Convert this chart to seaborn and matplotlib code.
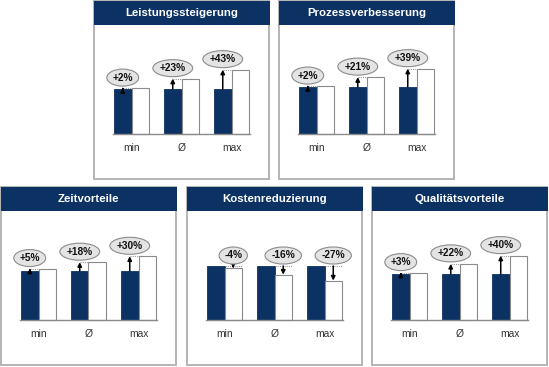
import matplotlib
matplotlib.use("Agg")
import matplotlib.pyplot as plt
from matplotlib.patches import Rectangle
import seaborn as sns
import pandas as pd

# ---- data ----
titles = ["Leistungssteigerung", "Prozessverbesserung", "Zeitvorteile",
          "Kostenreduzierung", "Qualitätsvorteile"]
categories = ["min", "Ø", "max"]
base_values = [45, 47, 49, 54, 46]          # relative height of the "before" bar
changes = [[2, 23, 43],
           [2, 21, 39],
           [5, 18, 30],
           [-4, -16, -27],
           [3, 22, 40]]

# ---- style ----
sns.set_theme(style="white")
plt.rcParams["font.family"] = ["Liberation Sans", "DejaVu Sans"]

NAVY = "#0c3264"
GRAY = "#b4b4b4"
W, H = 549, 367
fig = plt.figure(figsize=(W / 100, H / 100), dpi=100)

# panel placement in pixels (left, top)
panels = [(94, 1), (279, 1), (1, 187), (187, 187), (372, 187)]
PW, PH, TH = 175, 178, 24


def fx(px):
    return px / W


def fy(py):
    return 1 - py / H


for k, (x0, y0) in enumerate(panels):
    # panel frame
    fig.patches.append(Rectangle((fx(x0), fy(y0 + PH)), PW / W, PH / H,
                                 transform=fig.transFigure, facecolor="none",
                                 edgecolor=GRAY, lw=1.4, zorder=0))
    # title bar
    fig.patches.append(Rectangle((fx(x0), fy(y0 + TH)), (PW + 1) / W, TH / H,
                                 transform=fig.transFigure, facecolor=NAVY,
                                 edgecolor="none", zorder=1))
    fig.text(fx(x0 + PW / 2), fy(y0 + TH / 2 + 0.5), titles[k], color="white",
             fontsize=8.2, fontweight="bold", ha="center", va="center", zorder=3)

    # chart area
    ax = fig.add_axes([fx(x0), fy(y0 + PH), PW / W, (PH - TH) / H])
    ax.set_zorder(2)
    ax.patch.set_alpha(0)
    b = base_values[k]
    after = [b * (1 + c / 100) for c in changes[k]]
    df = pd.DataFrame({
        "cat": categories * 2,
        "phase": ["vorher"] * 3 + ["nachher"] * 3,
        "val": [b] * 3 + after,
    })
    sns.barplot(data=df, x="cat", y="val", hue="phase", order=categories,
                hue_order=["vorher", "nachher"], palette=[NAVY, "white"],
                width=0.7, legend=False, ax=ax, saturation=1)
    for p in ax.containers[0]:
        p.set_edgecolor(NAVY)
        p.set_linewidth(0.6)
    for p in ax.containers[1]:
        p.set_edgecolor("#8a8a8a")
        p.set_linewidth(0.8)

    for i, (c, a) in enumerate(zip(changes[k], after)):
        label = f"{c:+d}%"
        if c >= 0:
            xa = i - 0.175
            ax.plot([xa, i], [a, a], ls=(0, (1, 1)), color="#999999", lw=0.8)
            ax.annotate("", xy=(xa, a), xytext=(xa, b),
                        arrowprops=dict(arrowstyle="-|>", color="black", lw=1.1,
                                        mutation_scale=6, shrinkA=0, shrinkB=0))
            ty = a + 10.5
        else:
            xa = i + 0.175
            ax.plot([i, i + 0.35], [b, b], ls=(0, (1, 1)), color="#999999", lw=0.8)
            ax.annotate("", xy=(xa, a), xytext=(xa, b),
                        arrowprops=dict(arrowstyle="-|>", color="black", lw=1.1,
                                        mutation_scale=6, shrinkA=0, shrinkB=0))
            ty = b + 10.5
        ax.text(xa, ty, label, ha="center", va="center", fontsize=7.3,
                fontweight="bold", color="#111111",
                bbox=dict(boxstyle="ellipse,pad=0.1", facecolor="#e4e4e4",
                          edgecolor="#8c8c8c", lw=0.8))

    ax.set_xlim(-0.75, 2.75)
    ax.set_ylim(-45, 109)
    ax.set_xlabel("")
    ax.set_ylabel("")
    ax.set_yticks([])
    for s in ["left", "right", "top"]:
        ax.spines[s].set_visible(False)
    ax.spines["bottom"].set_position(("data", 0))
    ax.spines["bottom"].set_bounds(-0.38, 2.36)
    ax.spines["bottom"].set_color("#8a8a8a")
    ax.spines["bottom"].set_linewidth(1.0)
    ax.tick_params(axis="x", length=0, pad=6.5, labelsize=7.4, labelcolor="#333333")

fig.savefig("out.png", dpi=100)
